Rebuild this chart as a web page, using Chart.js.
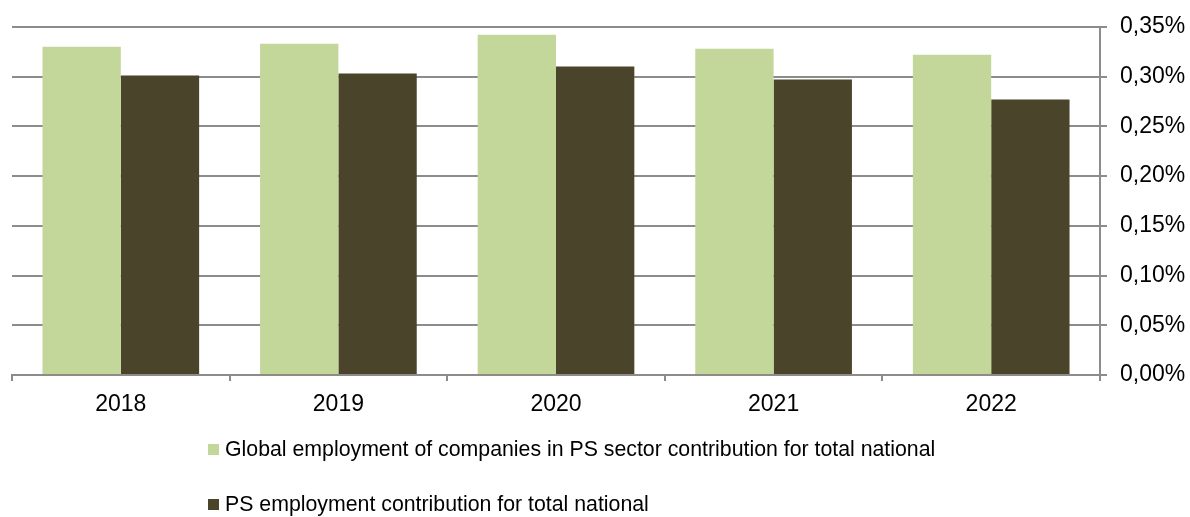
<!DOCTYPE html>
<html>
<head>
<meta charset="utf-8">
<script src="https://cdn.jsdelivr.net/npm/chart.js@4.4.0/dist/chart.umd.min.js"></script>
<style>
    body { margin: 0; background: #ffffff; }
    .wrap { position: relative; width: 1190px; height: 517px; }
    .legend {
        position: absolute;
        left: 208px;
        font-family: "Liberation Sans", Arial, sans-serif;
        font-size: 21.3px;
        color: #000;
        white-space: nowrap;
        line-height: 24px;
    }
    .legend span.box {
        display: inline-block;
        width: 11px;
        height: 11px;
        margin-right: 6px;
        vertical-align: 1px;
    }
</style>
</head>
<body>
<div class="wrap">
    <canvas id="chart" width="1190" height="517"></canvas>
    <div class="legend" id="leg0" style="top: 437px;"></div>
    <div class="legend" id="leg1" style="top: 492px;"></div>
</div>
<script>
// Anos e séries (valores em %)
const years = ['2018', '2019', '2020', '2021', '2022'];
const globalEmployment = [0.330, 0.333, 0.342, 0.328, 0.322];
const psEmployment = [0.301, 0.303, 0.310, 0.297, 0.277];
const seriesNames = [
    'Global employment of companies in PS sector contribution for total national',
    'PS employment contribution for total national'
];
const seriesColors = ['#C4D79B', '#4A452A'];

const gridColor = '#8c8c8c';
const fontFamily = '"Liberation Sans", Arial, sans-serif';

// Legenda em HTML (uma linha por série)
seriesNames.forEach((name, i) => {
    const el = document.getElementById('leg' + i);
    el.innerHTML = `<span class="box" style="background:${seriesColors[i]}"></span>${name}`;
});

new Chart(document.getElementById('chart'), {
    type: 'bar',
    data: {
        labels: years,
        datasets: [
            { label: seriesNames[0], data: globalEmployment, backgroundColor: seriesColors[0] },
            { label: seriesNames[1], data: psEmployment, backgroundColor: seriesColors[1] }
        ]
    },
    options: {
        responsive: false,
        animation: false,
        layout: { padding: { left: 12, top: 25, right: 0, bottom: 0 } },
        datasets: {
            bar: { categoryPercentage: 0.72, barPercentage: 1.0 }
        },
        plugins: {
            legend: { display: false },
            tooltip: { enabled: false }
        },
        scales: {
            x: {
                grid: {
                    offset: true,
                    drawOnChartArea: false,
                    drawTicks: true,
                    tickLength: 6,
                    color: gridColor,
                    lineWidth: 2
                },
                border: { color: gridColor, width: 2 },
                ticks: {
                    color: '#000',
                    padding: 10,
                    maxRotation: 0,
                    autoSkip: false,
                    font: { family: fontFamily, size: 23 }
                },
                afterFit: scale => { scale.height = 142; }
            },
            y: {
                position: 'right',
                min: 0,
                max: 0.35,
                grid: {
                    color: gridColor,
                    lineWidth: 2,
                    drawTicks: true,
                    tickLength: 7
                },
                border: { color: gridColor, width: 2 },
                ticks: {
                    stepSize: 0.05,
                    color: '#000',
                    padding: 13,
                    font: { family: fontFamily, size: 23 },
                    callback: v => v.toFixed(2).replace('.', ',') + '%'
                },
                afterFit: scale => { scale.width = 90; }
            }
        }
    }
});
</script>
</body>
</html>
